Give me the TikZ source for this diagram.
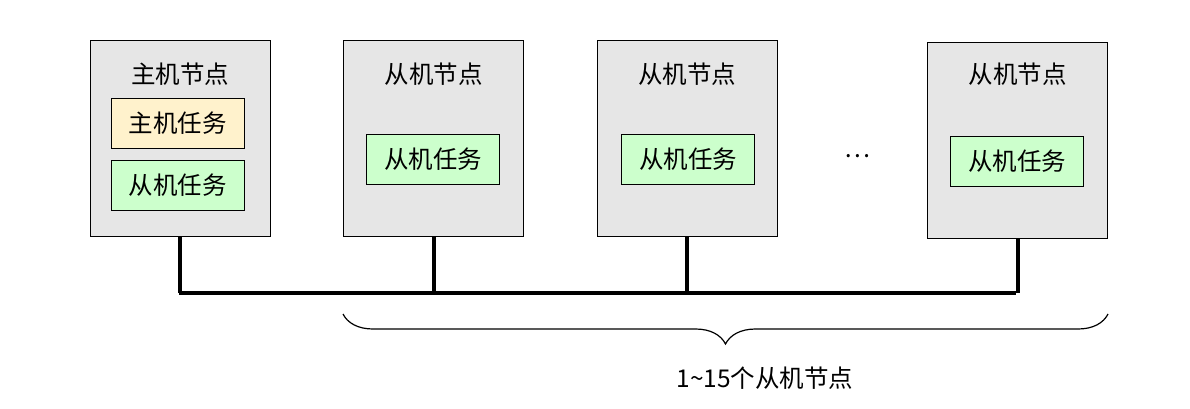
\documentclass[tikz,border=0pt]{standalone}
\usepackage{fontspec}
\setmainfont{Noto Sans CJK SC}
\usetikzlibrary{decorations.pathreplacing}
\definecolor{nodegray}{HTML}{E6E6E6}
\definecolor{taskyellow}{HTML}{FFF2CC}
\definecolor{taskgreen}{HTML}{CCFFCC}
\begin{document}
\begin{tikzpicture}[x=1pt,y=-1pt,
  machine/.style={draw, fill=nodegray, line width=0.8pt, minimum width=180pt, minimum height=196pt, inner sep=0pt},
  task/.style={draw, line width=0.8pt, minimum width=133pt, minimum height=50pt, inner sep=0pt, font=\fontsize{24.5}{28}\selectfont},
  title/.style={font=\fontsize{24.5}{28}\selectfont, inner sep=0pt},
  bus/.style={line width=4pt}]
\useasboundingbox (0,0) rectangle (1190,408);
\node[machine] (host) at (180,138) {};
\node[machine] (s1) at (433.5,138) {};
\node[machine] (s2) at (687,138) {};
\node[machine] (s4) at (1017.5,140) {};
\node[title] (th) at (180,74) {主机节点};
\node[title] (t1) at (433.5,74) {从机节点};
\node[title] (t2) at (687,74) {从机节点};
\node[title] (t4) at (1017.5,74) {从机节点};
\node[task, fill=taskyellow] (hm) at (177.5,123) {主机任务};
\node[task, fill=taskgreen] (hs) at (177.5,185) {从机任务};
\node[task, fill=taskgreen] (k1) at (433,159) {从机任务};
\node[task, fill=taskgreen] (k2) at (688,159) {从机任务};
\node[task, fill=taskgreen] (k4) at (1017,161) {从机任务};
\node[title] (dots) at (857,156) {…};
\coordinate (bL) at (179,293);
\coordinate (bR) at (1016,293);
\draw[bus] (bL) -- (bR);
\draw[bus] (host.south) -- (host.south |- bL);
\draw[bus] (s1.south) -- (s1.south |- bL);
\draw[bus] (s2.south) -- (s2.south |- bL);
\draw[bus] (s4.south) -- (s4.south |- bL);
\coordinate (brL) at (343,314);
\coordinate (brR) at (1108,314);
\draw[line width=1.2pt, decorate, decoration={brace, amplitude=30pt}] (brR) -- (brL);
\node[title] (lbl) at (765,378) {1\textasciitilde 15个从机节点};
\end{tikzpicture}
\end{document}
